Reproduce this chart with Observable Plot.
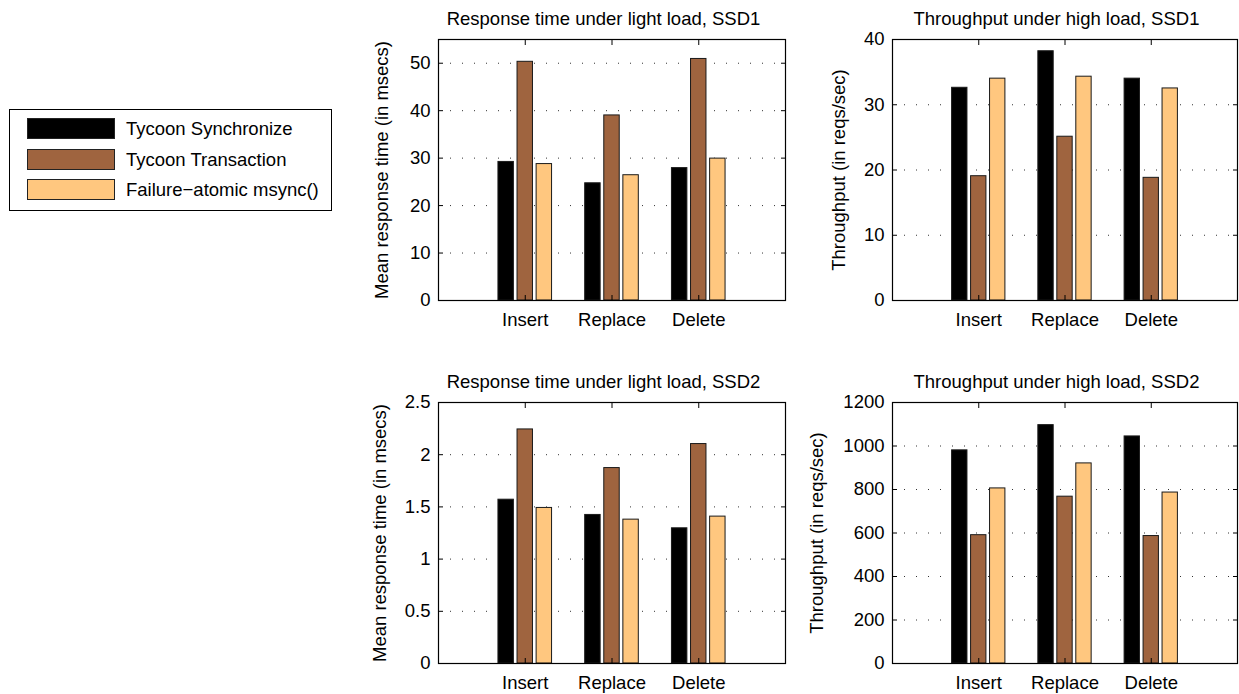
<!DOCTYPE html>
<html>
<head>
<meta charset="utf-8">
<script src="https://cdn.jsdelivr.net/npm/d3@7"></script>
<script src="https://cdn.jsdelivr.net/npm/@observablehq/plot@0.6"></script>
<style>
  html, body { margin: 0; padding: 0; background: #fff; }
  body { width: 1239px; height: 694px; position: relative; overflow: hidden;
         font-family: "Liberation Sans", Arial, sans-serif; color: #000; }
  .panel { position: absolute; }
  .title { position: absolute; font-size: 18.5px; white-space: nowrap; text-align: center; }
  #legend { position: absolute; left: 9px; top: 109px; width: 321px; height: 100px;
            border: 1.3px solid #000; background: #fff; }
  .sw { position: absolute; left: 17px; width: 88px; height: 21px; border: 1px solid #222; box-sizing: border-box; }
  .lt { position: absolute; left: 116px; font-size: 18.5px; white-space: nowrap; line-height: 21px; }
</style>
</head>
<body>
<div id="legend"></div>
<div id="charts"></div>
<script>
// ---- data ----
const categories = ["Insert", "Replace", "Delete"];
const seriesNames = ["Tycoon Synchronize", "Tycoon Transaction", "Failure\u2212atomic msync()"];
const seriesColors = ["#000000", "#9F643F", "#FFC77F"];

// values per series: [Insert, Replace, Delete]
const respSSD1 = [[29.2, 24.7, 27.9], [50.3, 39.0, 50.9], [28.75, 26.4, 29.9]];
const thruSSD1 = [[32.6, 38.2, 34.0], [19.05, 25.1, 18.8], [34.0, 34.3, 32.5]];
const respSSD2 = [[1.569, 1.423, 1.295], [2.242, 1.872, 2.102], [1.49, 1.378, 1.407]];
const thruSSD2 = [[980, 1096, 1044], [590, 767, 586], [805, 920, 786]];

const ticksResp1 = [0, 10, 20, 30, 40, 50];
const ticksThru1 = [0, 10, 20, 30, 40];
const ticksResp2 = [0, 0.5, 1, 1.5, 2, 2.5];
const ticksThru2 = [0, 200, 400, 600, 800, 1000, 1200];

const titles = ["Response time under light load, SSD1", "Throughput under high load, SSD1",
                "Response time under light load, SSD2", "Throughput under high load, SSD2"];
const yLabels = ["Mean response time (in msecs)", "Throughput (in reqs/sec)",
                 "Mean response time (in msecs)", "Throughput (in reqs/sec)"];

// ---- legend ----
const legend = document.getElementById("legend");
seriesNames.forEach((name, i) => {
  const sw = document.createElement("div");
  sw.className = "sw";
  sw.style.top = (8 + i * 30.5) + "px";
  sw.style.background = seriesColors[i];
  legend.appendChild(sw);
  const t = document.createElement("div");
  t.className = "lt";
  t.style.top = (8 + i * 30.5) + "px";
  t.textContent = name;
  legend.appendChild(t);
});

// ---- charts ----
const STEP = 0.22, BARW = 0.178;
function rowsOf(values) {
  const rows = [];
  values.forEach((vals, si) => vals.forEach((v, ci) => rows.push({
    series: seriesNames[si], si, cat: categories[ci], ci, value: v
  })));
  return rows;
}

const panels = [
  {values: respSSD1, ticks: ticksResp1, ymax: 55, left: 360, top: 0, width: 430, height: 340, ml: 78, mt: 39, mb: 40, fw: 347, lo: 64},
  {values: thruSSD1, ticks: ticksThru1, ymax: 40, left: 795, top: 0, width: 444, height: 340, ml: 97, mt: 39, mb: 40, fw: 345, lo: 61},
  {values: respSSD2, ticks: ticksResp2, ymax: 2.5, left: 360, top: 360, width: 430, height: 334, ml: 78, mt: 42, mb: 31, fw: 347, lo: 66},
  {values: thruSSD2, ticks: ticksThru2, ymax: 1200, left: 795, top: 360, width: 444, height: 334, ml: 97, mt: 42, mb: 31, fw: 345, lo: 83}
];

const charts = document.getElementById("charts");
panels.forEach((p, k) => {
  const rows = rowsOf(p.values);
  const chart = Plot.plot({
    width: p.width, height: p.height,
    marginLeft: p.ml, marginRight: p.width - p.ml - p.fw, marginTop: p.mt, marginBottom: p.mb,
    style: {fontFamily: "'Liberation Sans', Arial, sans-serif", fontSize: "18.5px", color: "#000", background: "transparent", overflow: "visible"},
    x: {domain: [0, 4]},
    y: {domain: [0, p.ymax]},
    color: {domain: seriesNames, range: seriesColors},
    marks: [
      Plot.ruleY(p.ticks, {stroke: "#333", strokeWidth: 1, strokeDasharray: "1,11"}),
      Plot.rect(rows, {
        x1: d => d.ci + 1 + (d.si - 1) * STEP - BARW / 2,
        x2: d => d.ci + 1 + (d.si - 1) * STEP + BARW / 2,
        y1: 0, y2: "value", fill: "series", stroke: "#1a1a1a", strokeWidth: 1
      }),
      Plot.frame({stroke: "#000", strokeWidth: 1.2}),
      Plot.axisY({ticks: p.ticks, tickSize: -5, tickPadding: 13, tickFormat: d => String(d),
                  label: yLabels[k], labelAnchor: "center", labelArrow: "none", labelOffset: p.lo}),
      Plot.axisY({anchor: "right", ticks: p.ticks, tickSize: -5, tickFormat: () => "", label: null}),
      Plot.axisX({ticks: [1, 2, 3], tickSize: -5, tickPadding: 17, tickFormat: d => categories[d - 1], label: null}),
      Plot.axisX({anchor: "top", ticks: [1, 2, 3], tickSize: -5, tickFormat: () => "", label: null})
    ]
  });
  const div = document.createElement("div");
  div.className = "panel";
  div.style.left = p.left + "px";
  div.style.top = p.top + "px";
  div.appendChild(chart);
  charts.appendChild(div);

  const t = document.createElement("div");
  t.className = "title";
  const cx = p.left + p.ml + p.fw / 2 - 8;
  t.style.left = (cx - 250) + "px";
  t.style.width = "500px";
  t.style.top = (p.top + p.mt - 31) + "px";
  t.textContent = titles[k];
  charts.appendChild(t);
});
</script>
</body>
</html>
